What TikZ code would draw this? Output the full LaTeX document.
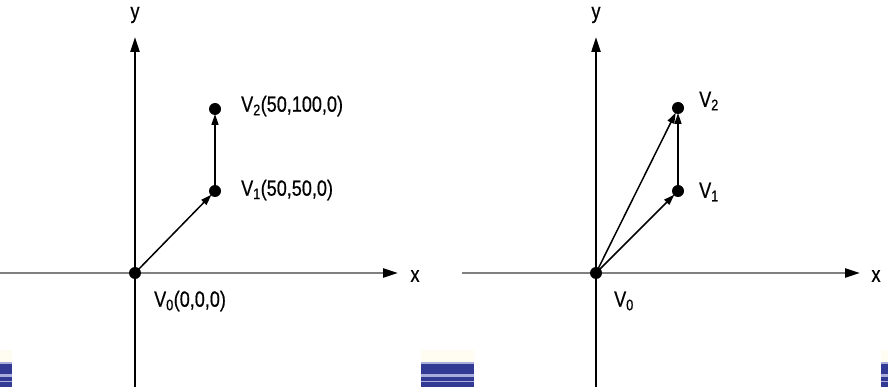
\documentclass[tikz,border=0pt]{standalone}
\usepackage{fontspec}
\setmainfont[FakeStretch=0.82,FakeBold=0.6]{Liberation Sans}
\usetikzlibrary{arrows.meta}
\definecolor{bdark}{HTML}{333A94}
\definecolor{blight}{HTML}{A9AEDA}
\definecolor{cream}{HTML}{FFFCF2}
\begin{document}
\begin{tikzpicture}[x=1pt,y=-1pt,
  yaxis/.style={line width=2.2pt,black,-{Triangle[length=15pt,width=9pt]}},
  xaxis/.style={line width=2.4pt,black!50,-{Triangle[length=15pt,width=9pt,fill=black,color=black]}},
  vec/.style={line width=1.5pt,-{Triangle[length=11pt,width=7pt]},shorten >=5pt},
  pt/.style={circle,fill=black,inner sep=0pt,minimum size=12pt},
  lbl/.style={font=\fontsize{22}{22}\selectfont,anchor=west,inner sep=0pt},
  axl/.style={font=\fontsize{22}{22}\selectfont,inner sep=0pt}]
\useasboundingbox (0,0) rectangle (888,387);
% blue stripes
\foreach \a/\b in {0/12,421/474,881/888}{
  \fill[cream] (\a,350) rectangle (\b,362);
  \fill[blight] (\a,362) rectangle (\b,387);
  \fill[bdark] (\a,364) rectangle (\b,374);
  \fill[bdark] (\a,376.5) rectangle (\b,380.5);
  \fill[bdark] (\a,382) rectangle (\b,387);
}
% left diagram
\coordinate (ly0) at (135,387);
\coordinate (ly1) at (135,37);
\coordinate (lx0) at (0,273);
\coordinate (lx1) at (398,273);
\draw[yaxis] (ly0) -- (ly1);
\draw[xaxis] (lx0) -- (lx1);
\node[axl] (ylab) at (135,15) {y};
\node[axl] (xlab) at (415,276) {x};
\node[pt] (a0) at (135,273) {};
\node[pt] (a1) at (215,191) {};
\node[pt] (a2) at (215,109) {};
\draw[vec] (a0.center) -- (a1.center);
\draw[vec] (a1.center) -- (a2.center);
\node[lbl] (la2) at (241,106) {V\textsubscript{2}(50,100,0)};
\node[lbl] (la1) at (241,190) {V\textsubscript{1}(50,50,0)};
\node[lbl] (la0) at (154,301) {V\textsubscript{0}(0,0,0)};
% right diagram
\coordinate (ry0) at (596,387);
\coordinate (ry1) at (596,37);
\coordinate (rx0) at (462,273);
\coordinate (rx1) at (860,273);
\draw[yaxis] (ry0) -- (ry1);
\draw[xaxis] (rx0) -- (rx1);
\node[axl] (ylab2) at (596,15) {y};
\node[axl] (xlab2) at (876,276) {x};
\node[pt] (b0) at (596,273) {};
\node[pt] (b1) at (678,191) {};
\node[pt] (b2) at (678,108) {};
\draw[vec] (b0.center) -- (b1.center);
\draw[vec] (b1.center) -- (b2.center);
\draw[vec] (b0.center) -- (b2.center);
\node[lbl] (lb2) at (699,101) {V\textsubscript{2}};
\node[lbl] (lb1) at (699,192) {V\textsubscript{1}};
\node[lbl] (lb0) at (614,301) {V\textsubscript{0}};
\end{tikzpicture}
\end{document}
